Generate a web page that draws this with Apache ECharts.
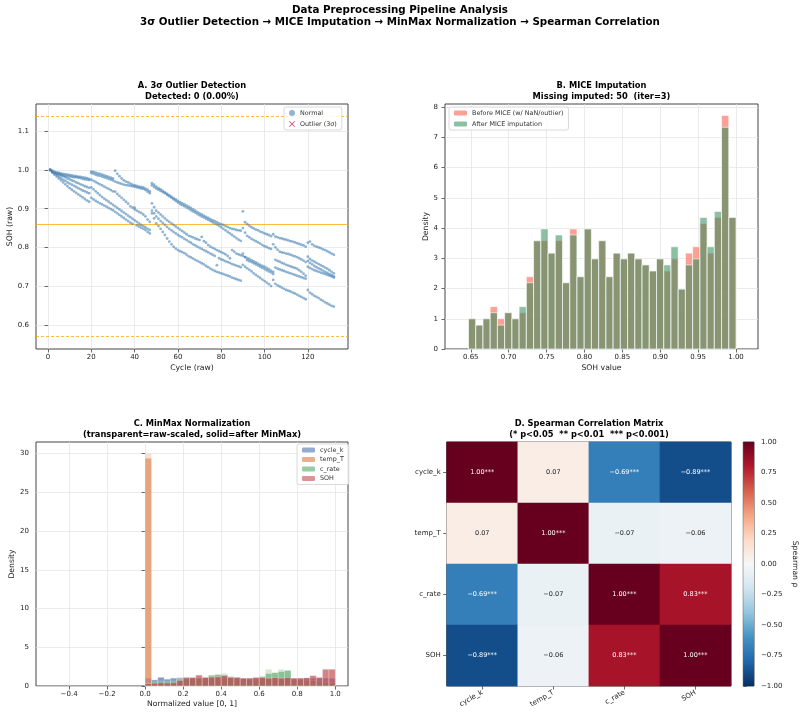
<!DOCTYPE html>
<html><head><meta charset="utf-8">
<script src="https://cdn.jsdelivr.net/npm/echarts@6/dist/echarts.min.js"></script>
<style>html,body{margin:0;padding:0;background:#fff;}#c{width:800px;height:718px;}</style>
</head><body><div id="c"></div>
<script>
// ---------- Panel A: SOH per cycle for each cell ----------
const socB1 = [1.000,0.998,0.996,0.994,0.993,0.991,0.990,0.989,0.988,0.987,0.986,0.985,0.984,0.983,0.982,0.981,0.980,0.979,0.977,
0.996,0.995,0.993,0.991,0.990,0.988,0.986,0.984,0.982,0.980,0.978,
0.998,0.990,0.984,0.978,0.973,0.970,0.968,0.965,0.962,0.960,0.959,0.957,0.956,0.955,0.952,0.949,0.945,
0.966,0.962,0.957,0.953,0.950,0.946,0.942,0.938,0.935,0.931,0.927,0.924,0.920,0.917,0.914,0.911,0.908,0.905,0.902,0.898,0.895,0.891,0.888,0.885,0.882,0.879,0.876,0.873,0.870,0.868,0.865,0.862,0.860,0.858,0.855,0.853,0.850,0.848,0.847,0.845,0.844,0.843,
0.893,0.865,0.860,0.856,0.852,0.849,0.846,0.844,0.841,0.839,0.836,0.834,0.832,0.829,0.834,0.828,0.826,0.824,0.823,0.821,0.820,0.818,0.816,0.815,0.813,0.811,0.809,0.807,0.805,0.802,0.812,0.815,0.808,0.804,0.802,0.800,0.798,0.795,0.793,0.790,0.787,0.784,0.781];
const socB2 = [1.000,0.995,0.992,0.990,0.989,0.988,0.986,0.985,0.984,0.983,0.982,0.981,0.981,0.980,0.979,0.977,0.976,0.975,0.974,
0.992,0.990,0.988,0.986,0.985,0.983,0.981,0.979,0.977,0.975,0.973,
0.970,0.968,0.966,0.964,0.962,0.961,0.960,0.959,0.958,0.957,0.955,0.954,0.952,0.951,0.948,0.944,0.940,
0.960,0.956,0.952,0.949,0.946,0.943,0.940,0.936,0.932,0.928,0.924,0.920,0.916,0.912,0.909,0.906,0.903,0.900,0.896,0.893,0.890,0.886,0.883,0.880,0.877,0.874,0.871,0.868,0.865,0.862,0.859,0.856,0.852,0.848,0.844,0.840,0.836,0.832,0.828,0.824,0.820,0.817,
0.850,0.838,0.830,0.826,0.822,0.819,0.816,0.813,0.810,0.806,0.803,0.801,0.798,0.796,0.808,0.800,0.794,0.789,0.787,0.786,0.784,0.783,0.781,0.779,0.777,0.775,0.772,0.769,0.766,0.762,0.776,0.770,0.766,0.763,0.760,0.757,0.754,0.751,0.748,0.745,0.741,0.737,0.733];
const socB3 = [1.000,0.996,0.993,0.991,0.989,0.986,0.984,0.981,0.978,0.976,0.973,0.971,0.968,0.966,0.963,0.961,0.958,0.956,0.954,
0.975,0.972,0.969,0.966,0.963,0.960,0.957,0.954,0.951,0.948,0.945,
0.944,0.938,0.933,0.928,0.923,0.918,0.913,0.906,0.903,0.898,0.895,0.892,0.889,0.885,0.880,0.872,0.866,
0.914,0.904,0.895,0.890,0.885,0.880,0.875,0.870,0.866,0.862,0.858,0.854,0.850,0.846,0.842,0.838,0.834,0.830,0.828,0.826,0.823,0.821,0.819,0.827,0.816,0.812,0.806,0.802,0.799,0.796,0.793,0.790,0.788,0.785,0.782,0.778,0.772,0.793,0.789,0.784,0.782,0.780,
0.778,0.775,0.772,0.770,0.767,0.764,0.761,0.758,0.755,0.752,0.750,0.747,0.744,0.740,0.737,0.768,0.765,0.763,0.760,0.758,0.755,0.753,0.751,0.749,0.747,0.745,0.741,0.737,0.732,0.727,0.765,0.760,0.756,0.752,0.749,0.746,0.743,0.740,0.737,0.734,0.731,0.728,0.725];
const socB4 = [1.000,0.995,0.991,0.987,0.983,0.979,0.975,0.972,0.968,0.965,0.962,0.959,0.956,0.953,0.950,0.947,0.945,0.942,0.940,
0.955,0.950,0.945,0.940,0.935,0.930,0.926,0.922,0.918,0.914,0.910,
0.906,0.902,0.898,0.894,0.890,0.886,0.882,0.878,0.874,0.870,0.866,0.862,0.858,0.855,0.852,0.848,0.845,
0.895,0.888,0.880,0.874,0.868,0.863,0.858,0.853,0.848,0.844,0.840,0.836,0.832,0.829,0.826,0.822,0.819,0.815,0.812,0.808,0.805,0.802,0.799,0.796,0.793,0.790,0.787,0.784,0.781,0.778,0.754,0.772,0.769,0.767,0.764,0.762,0.760,0.757,0.755,0.753,0.751,0.749,
0.784,0.775,0.767,0.764,0.762,0.759,0.756,0.753,0.750,0.747,0.744,0.741,0.738,0.735,0.731,0.748,0.745,0.743,0.741,0.739,0.737,0.735,0.733,0.731,0.729,0.727,0.725,0.723,0.721,0.719,0.750,0.747,0.744,0.741,0.739,0.737,0.735,0.733,0.731,0.729,0.727,0.725,0.722];
const socB5 = [1.000,0.993,0.988,0.983,0.978,0.973,0.968,0.963,0.958,0.953,0.949,0.945,0.941,0.937,0.933,0.929,0.925,0.921,0.918,
0.928,0.924,0.920,0.917,0.914,0.911,0.908,0.905,0.902,0.899,0.896,
0.892,0.888,0.884,0.880,0.876,0.872,0.868,0.864,0.861,0.903,0.857,0.854,0.851,0.848,0.845,0.840,0.836,
0.888,0.875,0.862,0.855,0.848,0.840,0.832,0.823,0.815,0.808,0.802,0.797,0.793,0.790,0.788,0.785,0.781,0.777,0.774,0.771,0.768,0.765,0.762,0.759,0.756,0.752,0.749,0.745,0.742,0.739,0.737,0.735,0.733,0.731,0.729,0.727,0.725,0.722,0.720,0.718,0.716,0.714,
0.755,0.750,0.746,0.742,0.738,0.733,0.729,0.725,0.721,0.717,0.713,0.709,0.705,0.700,0.716,0.706,0.702,0.699,0.696,0.693,0.690,0.688,0.686,0.683,0.681,0.678,0.675,0.672,0.669,0.666,0.690,0.683,0.679,0.675,0.672,0.669,0.665,0.662,0.658,0.655,0.652,0.649,0.647];
const sohCells = [socB1, socB2, socB3, socB4, socB5];
const sigmaLines = {upper: 1.144, mean: 0.856, lower: 0.568};
const ticksAx = [0,20,40,60,80,100,120];
const ticksAy = [0.6,0.7,0.8,0.9,1.0,1.1];

// ---------- Panel B: SOH histogram densities ----------
const histBRange = [0.647, 1.000];
const miceBefore = [1.00,0.79,1.00,1.40,1.00,1.20,1.00,1.20,2.39,3.58,3.58,3.17,3.58,2.19,3.97,2.39,3.97,2.98,3.58,2.39,3.17,2.98,3.17,2.98,2.78,2.58,2.98,2.58,2.98,1.98,3.17,3.38,4.15,3.17,4.35,7.72,4.35];
const miceAfter  = [1.00,0.79,1.00,1.20,0.79,1.20,1.00,1.40,2.19,3.58,3.97,3.17,3.77,2.19,3.77,2.39,3.97,2.98,3.58,2.39,3.17,2.98,3.17,2.98,2.78,2.58,2.98,2.78,3.38,1.98,2.78,2.98,4.35,3.38,4.55,7.33,4.35];
const ticksBx = [0.65,0.70,0.75,0.80,0.85,0.90,0.95,1.00];
const ticksBy = [0,1,2,3,4,5,6,7,8];

// ---------- Panel C: normalized histograms (30 bins on [0,1]) ----------
const histCRange = [0, 1];
const featNames = ['cycle_k','temp_T','c_rate','SOH'];
const rawCycle  = [1.00,0.82,1.05,0.92,1.05,1.12,1.05,1.00,1.00,1.05,1.00,1.00,1.05,1.00,1.10,1.00,1.05,1.00,1.00,1.05,1.00,1.00,1.05,1.00,1.00,1.00,1.05,1.00,1.00,0.97];
const normCycle = [1.00,0.77,1.12,0.86,1.00,1.00,1.00,1.03,1.00,1.00,1.00,1.03,1.00,1.00,1.10,1.00,1.00,1.03,1.00,1.00,1.00,1.03,1.00,1.00,1.00,1.03,1.00,1.00,1.00,0.97];
const rawTemp   = [30.0,0,0,0,0,0,0,0,0,0,0,0,0,0,0,0,0,0,0,0,0,0,0,0,0,0,0,0,0,0];
const normTemp  = [29.4,0,0,0,0,0,0,0,0,0,0,0,0,0,0,0,0,0,0,0,0,0,0,0,0,0,0,0,0,0];
const rawRate   = [0.30,0.50,0.60,0.55,0.60,0.80,0.90,1.00,1.00,1.10,1.40,1.50,1.63,1.20,1.00,0.95,0.90,0.90,1.25,2.15,1.75,2.15,2.00,0.90,0.80,0.75,0.70,0.60,0.50,0.40];
const normRate  = [0.30,0.50,0.60,0.55,0.60,0.80,0.90,1.00,1.00,1.05,1.38,1.46,1.38,1.20,1.00,0.95,0.90,0.90,1.20,1.60,1.70,1.85,2.00,0.90,0.80,0.75,0.70,0.60,0.50,0.40];
const rawSoh    = [0.34,0.35,0.42,0.38,0.42,0.75,1.10,1.10,1.40,1.12,1.15,1.20,1.38,1.10,1.10,1.00,1.00,1.10,1.10,1.00,1.10,1.00,1.10,1.00,1.00,1.05,1.33,1.10,2.15,2.15];
const normSoh   = [0.34,0.35,0.40,0.38,0.42,0.70,1.10,1.10,1.40,1.10,1.15,1.20,1.35,1.10,1.10,1.00,1.00,1.10,1.10,1.00,1.10,1.00,1.10,1.00,1.00,1.05,1.33,1.10,2.15,2.15];
const ticksCx = [-0.4,-0.2,0.0,0.2,0.4,0.6,0.8,1.0];
const ticksCy = [0,5,10,15,20,25,30];

// ---------- Panel D: Spearman correlation ----------
const corrVars = ['cycle_k','temp_T','c_rate','SOH'];
const corrMatrix = [
  [1.00, 0.07, -0.69, -0.89],
  [0.07, 1.00, -0.07, -0.06],
  [-0.69, -0.07, 1.00, 0.83],
  [-0.89, -0.06, 0.83, 1.00]
];
const sigMatrix = [
  ['***','','***','***'],
  ['','***','',''],
  ['***','','***','***'],
  ['***','','***','***']
];
const ticksCb = [-1.00,-0.75,-0.50,-0.25,0.00,0.25,0.50,0.75,1.00];
const rdbu = ['#053061','#2166ac','#4393c3','#92c5de','#d1e5f0','#f7f7f7','#fddbc7','#f4a582','#d6604d','#b2182b','#67001f'];

// ---------------------------------------------------------------------
const FONT = 'DejaVu Sans';
const chart = echarts.init(document.getElementById('c'), null, {renderer:'canvas'});
const minus = s => s.replace('-', '\u2212');
const FRAME = '#444';

function valAxis(extra) {
  const ticks = extra.ticks, fmt = extra.fmt;
  const ax = {
    type:'value', min: extra.min, max: extra.max, gridIndex: extra.grid,
    axisLine:{show:false},
    axisTick:{show:true, length:3.5, lineStyle:{color:FRAME, width:0.8}, customValues: ticks},
    axisLabel:{fontSize:7, color:'#222', fontFamily:FONT, margin: extra.margin || 5, customValues: ticks,
      formatter: v => minus(fmt(v))},
    splitLine:{show:true, lineStyle:{color:'#e3e3e3', width:0.7}},
    name: extra.name || '', nameLocation:'middle', nameGap: extra.nameGap || 15,
    nameTextStyle:{fontSize:7.7, color:'#222', fontFamily:FONT},
    position: extra.position
  };
  if (extra.hideSplit) ax.splitLine.show = false;
  if (extra.nameRotate !== undefined) ax.nameRotate = extra.nameRotate;
  return ax;
}

function histData(values, range) {
  const n = values.length, w = (range[1]-range[0]) / n;
  return values.map((h, i) => [range[0] + i*w, range[0] + (i+1)*w, h]);
}
function histSeries(name, values, range, xi, yi, fill, stroke, lw, z) {
  return {
    type:'custom', name, xAxisIndex:xi, yAxisIndex:yi, z: z || 2,
    data: histData(values, range),
    encode:{x:[0,1], y:2},
    itemStyle:{color: fill},
    renderItem: (params, api) => {
      const p0 = api.coord([api.value(0), api.value(2)]);
      const p1 = api.coord([api.value(1), 0]);
      return {type:'rect', shape:{x:p0[0], y:p0[1], width:p1[0]-p0[0], height:p1[1]-p0[1]},
        style:{fill: fill, stroke: stroke, lineWidth: lw}};
    },
    silent:true
  };
}

const scatterPts = [];
sohCells.forEach(arr => arr.forEach((v, i) => scatterPts.push([i+1, v])));

const orange = 'rgba(255,165,0,0.75)';
const colors = {
  cycle: ['rgba(76,114,176,0.25)','rgba(76,114,176,0.6)'],
  temp:  ['rgba(221,132,82,0.25)','rgba(221,132,82,0.65)'],
  rate:  ['rgba(85,168,104,0.25)','rgba(85,168,104,0.6)'],
  soh:   ['rgba(196,78,82,0.25)','rgba(196,78,82,0.6)']
};

const heatData = [];
corrMatrix.forEach((row, i) => row.forEach((v, j) => {
  heatData.push({value:[j, i, v], label:{color: Math.abs(v) > 0.5 ? '#fff' : '#222',
    formatter: minus(v.toFixed(2)) + sigMatrix[i][j]}});
}));

const cbStops = rdbu.slice().reverse().map((c, k) => ({offset: k/10, color: c}));

const gridStyle = {show:true, borderColor:FRAME, borderWidth:1, backgroundColor:'#fff', containLabel:false};
const legendBox = {orient:'vertical', padding:[3,5,3,5], backgroundColor:'rgba(255,255,255,0.85)',
  borderColor:'#d0d0d0', borderWidth:0.8, borderRadius:2, textStyle:{fontSize:6.4, color:'#333', fontFamily:FONT}};

const option = {
  backgroundColor:'#fff',
  animation:false,
  textStyle:{fontFamily:FONT},
  grid:[
    Object.assign({left:36, top:104, width:312, height:245}, gridStyle),
    Object.assign({left:445, top:104, width:313, height:245}, gridStyle),
    Object.assign({left:36, top:442, width:312, height:244}, gridStyle),
    Object.assign({left:446.7, top:442, width:284.3, height:244}, gridStyle),
    Object.assign({left:743.3, top:442, width:10.7, height:244}, gridStyle)
  ],
  xAxis:[
    valAxis({grid:0, min:-5.55, max:138.55, ticks:ticksAx, fmt:v=>String(v), name:'Cycle (raw)', nameGap:15, margin:5}),
    valAxis({grid:1, min:0.616, max:1.029, ticks:ticksBx, fmt:v=>v.toFixed(2), name:'SOH value', nameGap:15, margin:5}),
    valAxis({grid:2, min:-0.574, max:1.067, ticks:ticksCx, fmt:v=>v.toFixed(1), name:'Normalized value [0, 1]', nameGap:14, margin:5}),
    {type:'category', gridIndex:3, data:corrVars, axisLine:{show:false},
      axisTick:{show:true, alignWithLabel:true, length:3.5, lineStyle:{color:FRAME, width:0.8}},
      axisLabel:{fontSize:7, color:'#222', fontFamily:FONT, rotate:30, margin:6},
      splitLine:{show:false}},
    {type:'value', gridIndex:4, min:0, max:1, show:false}
  ],
  yAxis:[
    valAxis({grid:0, min:0.5375, max:1.1705, ticks:ticksAy, fmt:v=>v.toFixed(1), name:'SOH (raw)', nameGap:21, margin:7}),
    valAxis({grid:1, min:0, max:8.1, ticks:ticksBy, fmt:v=>String(v), name:'Density', nameGap:13, margin:7}),
    valAxis({grid:2, min:0, max:31.5, ticks:ticksCy, fmt:v=>String(v), name:'Density', nameGap:19, margin:7}),
    {type:'category', gridIndex:3, data:corrVars, inverse:true, axisLine:{show:false},
      axisTick:{show:true, alignWithLabel:true, length:3.5, lineStyle:{color:FRAME, width:0.8}},
      axisLabel:{fontSize:7, color:'#222', fontFamily:FONT, margin:6},
      splitLine:{show:false}},
    valAxis({grid:4, min:-1, max:1, ticks:ticksCb, fmt:v=>v.toFixed(2), position:'right', hideSplit:true,
      name:'Spearman \u03c1', nameGap:37, nameRotate:-90, margin:7})
  ],
  visualMap:[{type:'continuous', show:false, min:-1, max:1, seriesIndex: 11, dimension:2, inRange:{color: rdbu}}],
  legend:[
    Object.assign({data:[{name:'Normal', icon:'circle'}, {name:'Outlier (3σ)'}], left:284, top:107,
      itemWidth:6, itemHeight:6, itemGap:5}, legendBox),
    Object.assign({data:['Before MICE (w/ NaN/outlier)','After MICE imputation'], left:449, top:107,
      itemWidth:13, itemHeight:5, itemGap:5}, legendBox),
    Object.assign({data:featNames, left:297, top:444, itemWidth:13, itemHeight:5, itemGap:3.5}, legendBox)
  ],
  series:[
    {type:'scatter', name:'Normal', xAxisIndex:0, yAxisIndex:0, data:scatterPts, symbol:'circle', symbolSize:2.8,
      itemStyle:{color:'rgba(70,130,180,0.75)'}, z:3, silent:true,
      markLine:{silent:true, symbol:'none', label:{show:false}, z:2,
        data:[
          {yAxis: sigmaLines.upper, lineStyle:{color:orange, type:[3,2], width:1}},
          {yAxis: sigmaLines.mean, lineStyle:{color:orange, type:'solid', width:1}},
          {yAxis: sigmaLines.lower, lineStyle:{color:orange, type:[3,2], width:1}}
        ]}},
    {type:'scatter', name:'Outlier (3σ)', xAxisIndex:0, yAxisIndex:0, data:[],
      symbol:'path://M0,1L1,0L5,4L9,0L10,1L6,5L10,9L9,10L5,6L1,10L0,9L4,5Z', symbolSize:7,
      itemStyle:{color:'#dc143c'}},
    histSeries('Before MICE (w/ NaN/outlier)', miceBefore, histBRange, 1, 1, 'rgba(250,128,114,0.75)', '#fff', 0.6, 2),
    histSeries('After MICE imputation', miceAfter, histBRange, 1, 1, 'rgba(46,139,87,0.55)', '#fff', 0.6, 3),
    histSeries('cycle_k raw', rawCycle, histCRange, 2, 2, colors.cycle[0], 'rgba(255,255,255,0.5)', 0.4, 2),
    histSeries('cycle_k', normCycle, histCRange, 2, 2, colors.cycle[1], 'rgba(255,255,255,0.5)', 0.4, 2),
    histSeries('temp_T raw', rawTemp, histCRange, 2, 2, colors.temp[0], 'rgba(255,255,255,0.5)', 0.4, 2),
    histSeries('temp_T', normTemp, histCRange, 2, 2, colors.temp[1], 'rgba(255,255,255,0.5)', 0.4, 2),
    histSeries('c_rate raw', rawRate, histCRange, 2, 2, colors.rate[0], 'rgba(255,255,255,0.5)', 0.4, 2),
    histSeries('c_rate', normRate, histCRange, 2, 2, colors.rate[1], 'rgba(255,255,255,0.5)', 0.4, 2),
    histSeries('SOH raw', rawSoh, histCRange, 2, 2, colors.soh[0], 'rgba(255,255,255,0.5)', 0.4, 2),
    {type:'heatmap', xAxisIndex:3, yAxisIndex:3, data:heatData, silent:true,
      label:{show:true, fontSize:6.5, fontFamily:FONT}, itemStyle:{borderWidth:0}},
    histSeries('SOH', normSoh, histCRange, 2, 2, colors.soh[1], 'rgba(255,255,255,0.5)', 0.4, 2),
    {type:'custom', xAxisIndex:4, yAxisIndex:4, data:[[0,1,-1,1]], encode:{x:[0,1], y:[2,3]}, silent:true,
      renderItem:(params, api) => {
        const p0 = api.coord([api.value(0), api.value(3)]);
        const p1 = api.coord([api.value(1), api.value(2)]);
        return {type:'rect', shape:{x:p0[0], y:p0[1], width:p1[0]-p0[0], height:p1[1]-p0[1]},
          style:{fill: new echarts.graphic.LinearGradient(0,0,0,1, cbStops)}};
      }}
  ],
  graphic:[
    {type:'text', x:400, y:10, style:{text:'Data Preprocessing Pipeline Analysis', font:'bold 10.3px "DejaVu Sans"', fill:'#000', textAlign:'center', textVerticalAlign:'middle'}},
    {type:'text', x:400, y:22, style:{text:'3σ Outlier Detection → MICE Imputation → MinMax Normalization → Spearman Correlation', font:'bold 10.3px "DejaVu Sans"', fill:'#000', textAlign:'center', textVerticalAlign:'middle'}},
    {type:'text', x:192, y:86, style:{text:'A. 3σ Outlier Detection', font:'bold 8.3px "DejaVu Sans"', fill:'#000', textAlign:'center', textVerticalAlign:'middle'}},
    {type:'text', x:192, y:97, style:{text:'Detected: 0 (0.00%)', font:'bold 8.3px "DejaVu Sans"', fill:'#000', textAlign:'center', textVerticalAlign:'middle'}},
    {type:'text', x:601.5, y:86, style:{text:'B. MICE Imputation', font:'bold 8.3px "DejaVu Sans"', fill:'#000', textAlign:'center', textVerticalAlign:'middle'}},
    {type:'text', x:601.5, y:97, style:{text:'Missing imputed: 50  (iter=3)', font:'bold 8.3px "DejaVu Sans"', fill:'#000', textAlign:'center', textVerticalAlign:'middle'}},
    {type:'text', x:192, y:424, style:{text:'C. MinMax Normalization', font:'bold 8.3px "DejaVu Sans"', fill:'#000', textAlign:'center', textVerticalAlign:'middle'}},
    {type:'text', x:192, y:435, style:{text:'(transparent=raw-scaled, solid=after MinMax)', font:'bold 8.3px "DejaVu Sans"', fill:'#000', textAlign:'center', textVerticalAlign:'middle'}},
    {type:'text', x:589, y:424, style:{text:'D. Spearman Correlation Matrix', font:'bold 8.3px "DejaVu Sans"', fill:'#000', textAlign:'center', textVerticalAlign:'middle'}},
    {type:'text', x:589, y:435, style:{text:'(* p<0.05  ** p<0.01  *** p<0.001)', font:'bold 8.3px "DejaVu Sans"', fill:'#000', textAlign:'center', textVerticalAlign:'middle'}}
  ]
};
chart.setOption(option);
</script></body></html>
